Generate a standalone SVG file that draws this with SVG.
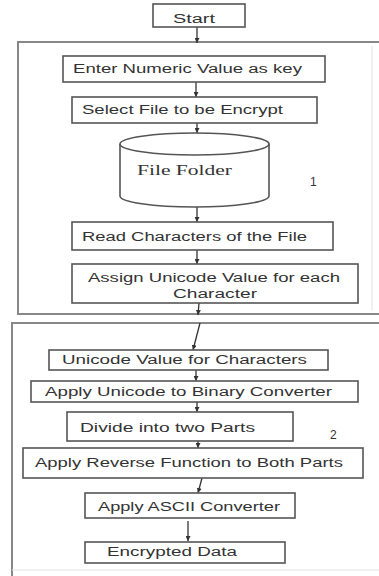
<svg xmlns="http://www.w3.org/2000/svg" width="379" height="576" viewBox="0 0 379 576">
<defs>
<marker id="ah" viewBox="0 0 6 6" refX="6" refY="3" markerWidth="5" markerHeight="5" orient="auto" markerUnits="userSpaceOnUse">
<path d="M0,0 L6,3 L0,6 z" fill="#333"/>
</marker>
</defs>
<style>
.box{fill:#fff;stroke:#555;stroke-width:1.6}
.frame{fill:none;stroke:#888;stroke-width:2}
.t{font-family:"Liberation Sans",Arial,sans-serif;font-size:12px;fill:#333;text-anchor:start}
.s{font-family:"Liberation Serif","Times New Roman",serif;font-size:14px;fill:#333}
.c{stroke:#333;stroke-width:1.3;fill:none;marker-end:url(#ah)}
</style>
<rect width="379" height="576" fill="#fff"/>
<g id="frame1">
<path class="frame" d="M379,42 H18 V314 H379"/>
<path d="M372,46 V310" stroke="#e2e2e2" stroke-width="1" fill="none"/>
<text class="t" x="310" y="186">1</text>
</g>
<g id="frame2">
<path class="frame" d="M379,323 H12 V576"/>
<path d="M12,570 H379" stroke="#e4e4e4" stroke-width="1" fill="none"/>
<text class="t" x="330" y="439">2</text>
</g>
<g id="connectors">
<line class="c" x1="197" y1="27" x2="197" y2="43"/>
<line class="c" x1="196" y1="82" x2="196" y2="97"/>
<line class="c" x1="197" y1="123" x2="197" y2="133"/>
<line class="c" x1="197" y1="207" x2="197" y2="222"/>
<line class="c" x1="197" y1="250" x2="197" y2="264"/>
<line class="c" x1="199" y1="303" x2="198" y2="315"/>
<line class="c" x1="200" y1="323" x2="193" y2="350"/>
<line class="c" x1="196" y1="370" x2="196" y2="381"/>
<line class="c" x1="197" y1="402" x2="197" y2="412"/>
<line class="c" x1="198" y1="441" x2="198" y2="448"/>
<line class="c" x1="202" y1="478" x2="198" y2="493"/>
<line class="c" x1="188" y1="521" x2="188" y2="541"/>
</g>
<g id="start">
<rect class="box" x="153" y="4" width="92" height="23"/>
<text class="t" x="173" y="23" textLength="42" lengthAdjust="spacingAndGlyphs">Start</text>
</g>
<g id="enter">
<rect class="box" x="63" y="56" width="262" height="26"/>
<text class="t" x="73" y="73" textLength="229" lengthAdjust="spacingAndGlyphs">Enter Numeric Value as key</text>
</g>
<g id="select">
<rect class="box" x="72" y="97" width="245" height="26"/>
<text class="t" x="82" y="114" textLength="201" lengthAdjust="spacingAndGlyphs">Select File to be Encrypt</text>
</g>
<g id="folder">
<path class="box" d="M120,144 V196 A74.5,11 0 0 0 269,196 V144"/>
<ellipse class="box" cx="194.5" cy="144" rx="74.5" ry="11"/>
<text class="s" x="137" y="175" textLength="95" lengthAdjust="spacingAndGlyphs">File Folder</text>
</g>
<g id="read">
<rect class="box" x="72" y="222" width="261" height="28"/>
<text class="t" x="82" y="241" textLength="225" lengthAdjust="spacingAndGlyphs">Read Characters of the File</text>
</g>
<g id="assign">
<rect class="box" x="72" y="264" width="286" height="39"/>
<text class="t" x="88" y="282" textLength="252" lengthAdjust="spacingAndGlyphs">Assign Unicode Value for each</text>
<text class="t" x="173" y="298" textLength="84" lengthAdjust="spacingAndGlyphs">Character</text>
</g>
<g id="unicode">
<rect class="box" x="49" y="350" width="279" height="20"/>
<text class="t" x="62" y="364" textLength="245" lengthAdjust="spacingAndGlyphs">Unicode Value for Characters</text>
</g>
<g id="binary">
<rect class="box" x="31" y="381" width="327" height="21"/>
<text class="t" x="45" y="396" textLength="287" lengthAdjust="spacingAndGlyphs">Apply Unicode to Binary Converter</text>
</g>
<g id="divide">
<rect class="box" x="67" y="412" width="226" height="29"/>
<text class="t" x="80" y="432" textLength="175" lengthAdjust="spacingAndGlyphs">Divide into two Parts</text>
</g>
<g id="reverse">
<rect class="box" x="23" y="448" width="340" height="30"/>
<text class="t" x="35" y="467" textLength="308" lengthAdjust="spacingAndGlyphs">Apply Reverse Function to Both Parts</text>
</g>
<g id="ascii">
<rect class="box" x="85" y="493" width="210" height="25"/>
<text class="t" x="98" y="511" textLength="182" lengthAdjust="spacingAndGlyphs">Apply ASCII Converter</text>
</g>
<g id="encrypted">
<rect class="box" x="85" y="542" width="200" height="21"/>
<text class="t" x="107" y="556" textLength="130" lengthAdjust="spacingAndGlyphs">Encrypted Data</text>
</g>
</svg>
